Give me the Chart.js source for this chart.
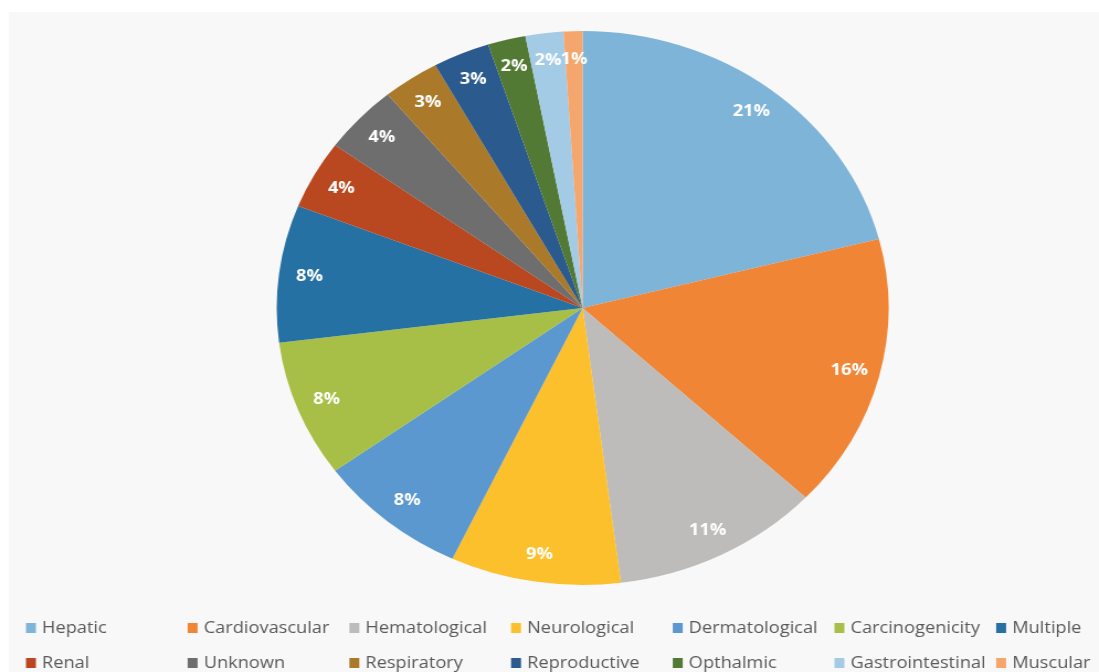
<!DOCTYPE html>
<html>
<head>
<meta charset="utf-8">
<script src="https://cdn.jsdelivr.net/npm/chart.js@4.4.1/dist/chart.umd.min.js"></script>
<style>
  html, body { margin: 0; padding: 0; background: #fff; overflow: hidden; }
  /* the reference picture is stretched sideways, so the whole chart is too */
  #wrap { position: absolute; left: 0; top: 0; width: 995px; height: 672px;
          transform: scaleX(1.1045); transform-origin: 0 0; }
</style>
</head>
<body>
<div id="wrap"><canvas id="myChart" width="995" height="672"></canvas></div>
<script>
// Данные
const categories = ['Hepatic', 'Cardiovascular', 'Hematological', 'Neurological', 'Dermatological',
  'Carcinogenicity', 'Multiple', 'Renal', 'Unknown', 'Respiratory', 'Reproductive',
  'Opthalmic', 'Gastrointestinal', 'Muscular'];
const shares = [21, 16, 11, 9, 8, 8, 8, 4, 4, 3, 3, 2, 2, 1];
const sliceColors = ['#7fb4d9', '#f08535', '#bebcba', '#fcc02c', '#5b98cf', '#a7bf46', '#2671a3',
  '#b9471f', '#6e6e6e', '#aa7a2a', '#2b5a8e', '#537a35', '#a4cbe6', '#f5a66d'];

// фон: белая рамка и светло-серое поле
const backgroundPlugin = {
  id: 'bg',
  beforeDraw(chart) {
    const ctx = chart.ctx;
    ctx.save();
    ctx.fillStyle = '#ffffff';
    ctx.fillRect(0, 0, chart.width, chart.height);
    ctx.fillStyle = '#f8f8f8';
    ctx.fillRect(8, 12, chart.width - 8, chart.height - 12);
    ctx.restore();
  }
};

// подписи процентов внутри секторов
const percentLabels = {
  id: 'percentLabels',
  afterDatasetsDraw(chart) {
    const ctx = chart.ctx;
    const meta = chart.getDatasetMeta(0);
    ctx.save();
    ctx.fillStyle = '#ffffff';
    ctx.font = 'bold 16.5px "Open Sans", sans-serif';
    ctx.textAlign = 'center';
    ctx.textBaseline = 'middle';
    meta.data.forEach((arc, i) => {
      const p = arc.getProps(['x', 'y', 'startAngle', 'endAngle', 'outerRadius'], true);
      const mid = (p.startAngle + p.endAngle) / 2;
      const d = p.outerRadius * 0.9;
      ctx.fillText(shares[i] + '%', p.x + Math.cos(mid) * d, p.y + Math.sin(mid) * d);
    });
    ctx.restore();
  }
};

// легенда в две строки по 7 колонок
const gridLegend = {
  id: 'gridLegend',
  afterDraw(chart) {
    const ctx = chart.ctx;
    const cols = 7;
    const x0 = 23.5, colW = 146.4;
    const rowY = [628, 663];
    ctx.save();
    ctx.font = '16.5px "Open Sans", sans-serif';
    ctx.textBaseline = 'middle';
    ctx.textAlign = 'left';
    categories.forEach((name, i) => {
      const x = x0 + (i % cols) * colW;
      const y = rowY[Math.floor(i / cols)];
      ctx.fillStyle = sliceColors[i];
      ctx.fillRect(x, y - 5, 9, 10);
      ctx.fillStyle = '#595959';
      ctx.fillText(name, x + 14.5, y);
    });
    ctx.restore();
  }
};

let ctx = document.getElementById('myChart').getContext('2d');
let myChart = new Chart(ctx, {
  type: 'pie',
  data: {
    labels: categories,
    datasets: [{
      data: shares,
      backgroundColor: sliceColors,
      borderWidth: 0
    }]
  },
  options: {
    responsive: false,
    animation: false,
    layout: { padding: { left: 120, right: 60, top: 31, bottom: 87 } },
    plugins: {
      legend: { display: false },
      tooltip: { enabled: false }
    }
  },
  plugins: [backgroundPlugin, percentLabels, gridLegend]
});
</script>
</body>
</html>
